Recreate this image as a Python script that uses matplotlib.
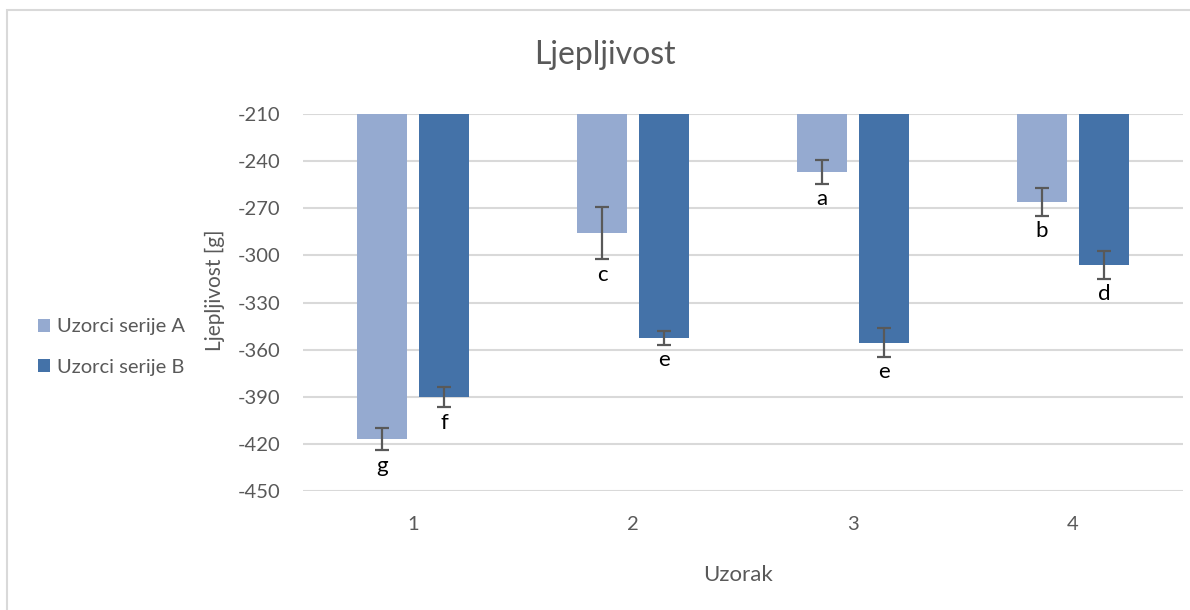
#-------------------------------------------------------------------------
# Imports
import matplotlib
matplotlib.use("Agg")
import matplotlib.pyplot as plt
from   matplotlib.patches import Rectangle
import numpy             as np

#-------------------------------------------------------------------------
# Data
categories = ["1", "2", "3", "4"]
series     = ["Uzorci serije A", "Uzorci serije B"]

vals_A = [-417.0, -286.0, -247.0, -266.0]
vals_B = [-390.0, -352.5, -355.5, -306.0]
err_A  = [7.0, 16.5, 7.5, 8.8]
err_B  = [6.5, 4.5, 9.0, 8.8]
lett_A = ["g", "c", "a", "b"]
lett_B = ["f", "e", "e", "d"]

yticks = [-210, -240, -270, -300, -330, -360, -390, -420, -450]

#-------------------------------------------------------------------------
# Plot parameters
col_A     = "#95AAD0"
col_B     = "#4472A8"
txt_col   = "#595959"
grid_col  = "#D9D9D9"
base      = -210.0
bar_w     = 0.227
offset    = 0.141
plt.rcParams["font.family"]        = ["Lato", "DejaVu Sans"]
plt.rcParams["axes.unicode_minus"] = False

#-------------------------------------------------------------------------
# Figure
fig = plt.figure(figsize=(11.9, 6.1), dpi=100)
fig.patches.append(Rectangle((7/1190, -0.1), 1.2, 1 - 10/610 + 0.1,
                             transform=fig.transFigure, fill=False,
                             edgecolor=grid_col, linewidth=1.5))

ax = fig.add_axes([303/1190, 1 - 491/610, 880/1190, 377/610])

x = np.arange(len(categories))
hA = [v - base for v in vals_A]
hB = [v - base for v in vals_B]

bA = ax.bar(x - offset, hA, bar_w, bottom=base, color=col_A, zorder=2, label=series[0])
bB = ax.bar(x + offset, hB, bar_w, bottom=base, color=col_B, zorder=2, label=series[1])

ax.errorbar(x - offset, vals_A, yerr=err_A, fmt="none", ecolor=txt_col,
            elinewidth=1.6, capsize=5, capthick=1.6, zorder=3)
ax.errorbar(x + offset, vals_B, yerr=err_B, fmt="none", ecolor=txt_col,
            elinewidth=1.6, capsize=5, capthick=1.6, zorder=3)

for xi, v, e, l in zip(x - offset, vals_A, err_A, lett_A):
    ax.annotate(l, (xi, v - e), xytext=(0, -4), textcoords="offset points",
                ha="center", va="top", fontsize=16, color="black")
for xi, v, e, l in zip(x + offset, vals_B, err_B, lett_B):
    ax.annotate(l, (xi, v - e), xytext=(0, -4), textcoords="offset points",
                ha="center", va="top", fontsize=16, color="black")

ax.set_xlim(-0.5, 3.5)
ax.set_ylim(-450, -210)
ax.set_yticks(yticks)
ax.set_xticks(x)
ax.set_xticklabels(categories)
ax.tick_params(axis="both", length=0, labelsize=14.5, labelcolor=txt_col)
ax.tick_params(axis="y", pad=16)
ax.tick_params(axis="x", pad=18)
ax.grid(axis="y", color=grid_col, linewidth=1.5, zorder=0)
ax.set_axisbelow(True)
for s in ax.spines.values():
    s.set_visible(False)

ax.set_ylabel("Ljepljivost [g]", fontsize=15, color=txt_col)
ax.yaxis.set_label_coords(-0.089, 0.533)
ax.set_xlabel("Uzorak", fontsize=16, color=txt_col)
ax.xaxis.set_label_coords(0.494, -0.196)

fig.text(605/1190, 1 - 55/610, "Ljepljivost", ha="center", va="center",
         fontsize=23, color=txt_col)

fig.legend(handles=[bA, bB], loc="center left",
           bbox_to_anchor=(20/1190, 1 - 347/610), frameon=False,
           fontsize=14.5, labelcolor=txt_col, handlelength=0.6,
           handleheight=0.6, handletextpad=0.35, labelspacing=1.15)

#-------------------------------------------------------------------------
# Saving Plot
fig.savefig("out.png", dpi=100)
